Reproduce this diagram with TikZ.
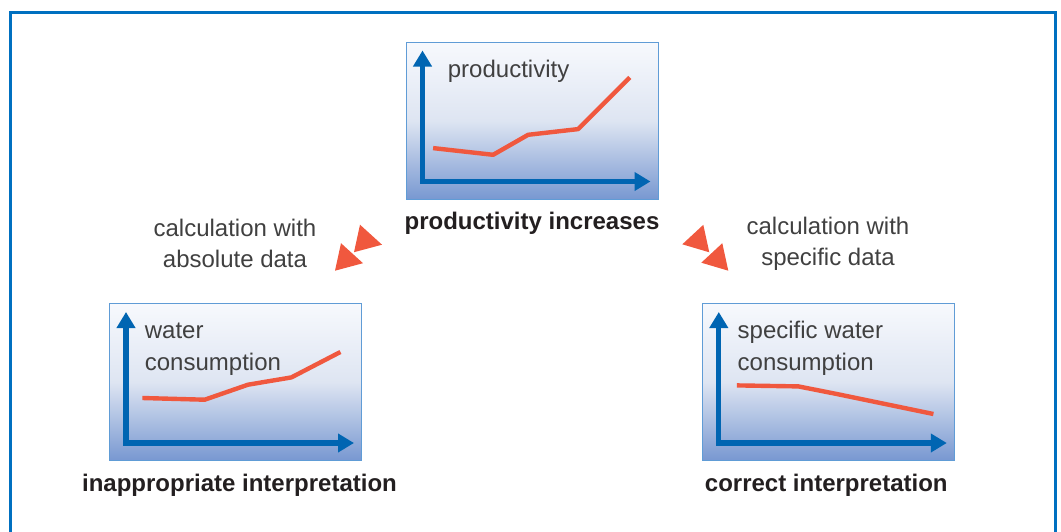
\documentclass[tikz,border=0pt]{standalone}
\usepackage{fontspec}
\setmainfont{Liberation Sans}
\usepackage{tikz}
\usetikzlibrary{calc,positioning,arrows.meta}
\definecolor{frameblue}{RGB}{0,112,192}
\definecolor{axisblue}{RGB}{0,101,178}
\definecolor{boxline}{RGB}{96,156,214}
\definecolor{boxtop}{RGB}{247,249,253}
\definecolor{boxmid}{RGB}{222,229,242}
\definecolor{boxbot}{RGB}{120,152,209}
\definecolor{datared}{RGB}{240,88,62}
\definecolor{txtgray}{RGB}{64,64,64}
\definecolor{txtdark}{RGB}{35,31,32}

\begin{document}
\begin{tikzpicture}[x=0.5pt,y=-0.5pt,
  chartbox/.style={draw=boxline, line width=0.5pt, top color=boxtop, bottom color=boxbot, middle color=boxmid, minimum width=126pt, minimum height=78.5pt, inner sep=0pt},
  caplbl/.style={font=\bfseries\fontsize{12}{14}\selectfont, text=txtdark},
  calclbl/.style={font=\fontsize{12}{15.5}\selectfont, text=txtgray, align=center},
  charttxt/.style={font=\fontsize{12}{15.8}\selectfont, text=txtgray, align=left, inner sep=0pt, anchor=base west},
  axisline/.style={draw=axisblue, line width=2.6pt, {Triangle[length=8pt,width=9pt]}-{Triangle[length=8pt,width=9pt]}},
  dataline/.style={draw=datared, line width=2.2pt, line join=round},
  redtip/.style={fill=datared}]
\useasboundingbox (0,0) rectangle (1061,531);
\draw[frameblue, line width=1.5pt] (10.3,560) |- (1055,12) -- (1055,560);
% the three charts
\node[chartbox] (prod) at (532,120.5) {};
\node[chartbox] (absw) at (235.5,382) {};
\node[chartbox] (specw) at (828.3,382) {};
\foreach \p in {prod,absw,specw}
  \draw[axisline] ($(\p.north west)+(17,9)$) |- ($(\p.north west)+(245,140)$);
\begin{scope}[shift={(prod.north west)}]
\draw[dataline] (27.6,106.6)--(87.6,113.3)--(122.6,93.3)--(172.6,87.6)--(224.3,36);
\node[charttxt] (prodtxt) at (42,36) {productivity};
\end{scope}
\begin{scope}[shift={(absw.north west)}]
\draw[dataline] (33.4,95)--(95.7,96.7)--(139,81.7)--(182.4,74.4)--(231.4,49);
\node[charttxt] (abswtxt) at (35.5,67.1) {water\\consumption};
\end{scope}
\begin{scope}[shift={(specw.north west)}]
\draw[dataline] (35,82.4)--(96.6,83.4)--(135,91)--(231.6,111);
\node[charttxt] (specwtxt) at (35.5,67.1) {specific water\\consumption};
\end{scope}
% captions
\node[caplbl, below=3pt of prod] (prodcap) {productivity increases};
\node[caplbl, below=3pt of absw, xshift=2pt] (abswcap) {inappropriate interpretation};
\node[caplbl, below=3pt of specw, xshift=-1pt] (specwcap) {correct interpretation};
\node[calclbl] (calcabs) at (235,243.5) {calculation with\\absolute data};
\node[calclbl] (calcspec) at (828,243.5) {calculation with\\specific data};
% double arrow heads
\coordinate (abstip) at (335,270.7);
\coordinate (spectip) at (728.3,270.7);
\foreach \s in {0,1}{
  \fill[redtip] ($(abstip)+(19*\s,-18.5*\s)$) -- ++(6,-27.5) -- ++(22,20) -- cycle;
  \fill[redtip] ($(spectip)+(-19*\s,-18.4*\s)$) -- ++(-6,-27.5) -- ++(-21,19.5) -- cycle;
}
\end{tikzpicture}
\end{document}
